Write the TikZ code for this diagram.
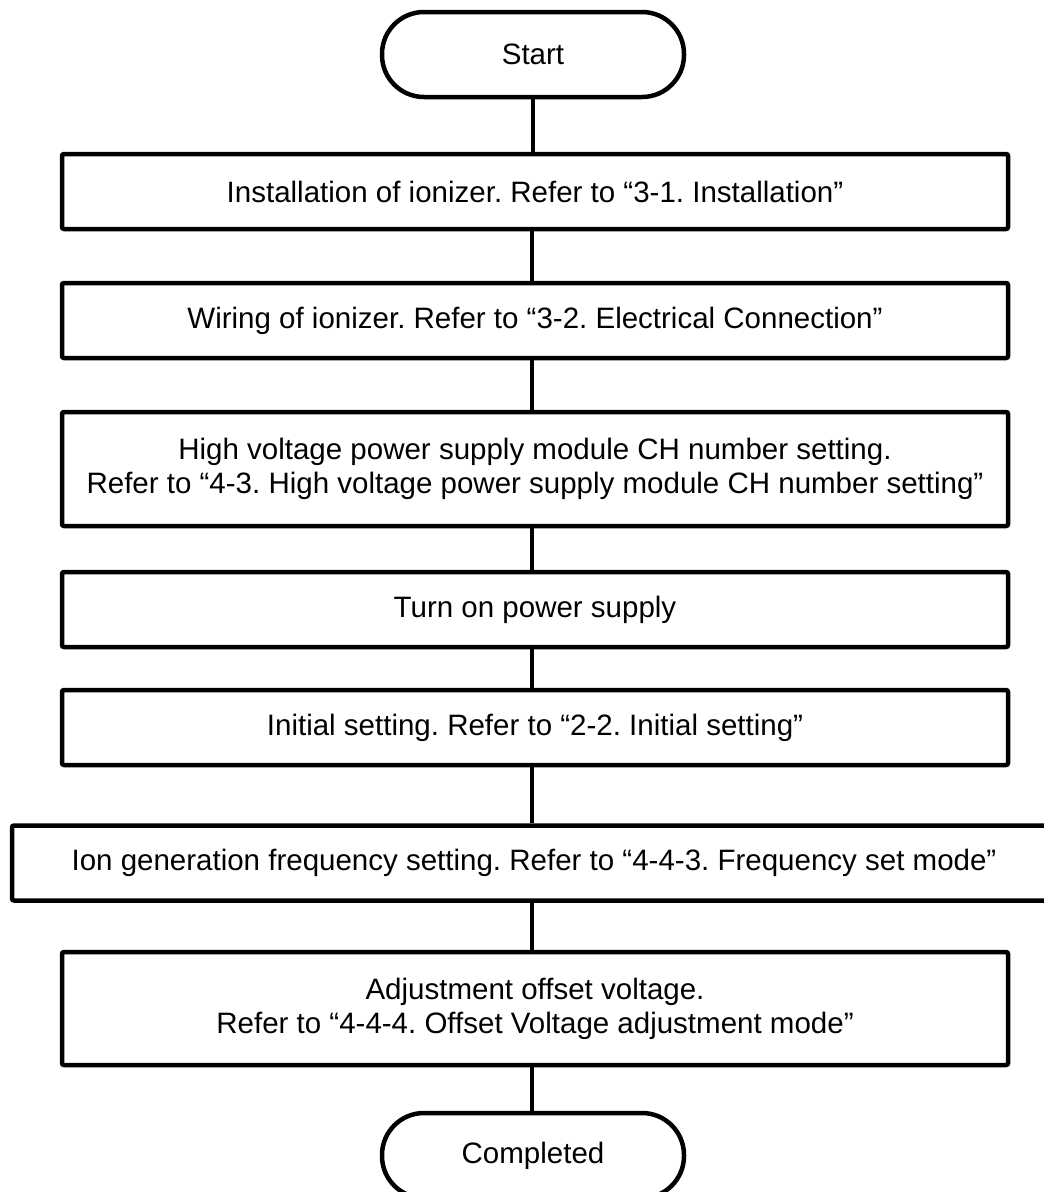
\documentclass[tikz,border=0pt]{standalone}
\usepackage{fontspec}
\setmainfont{Liberation Sans}
\begin{document}
\frenchspacing
\begin{tikzpicture}[x=1pt,y=-1pt,
  every node/.style={font=\fontsize{29.5}{34}\selectfont, align=center, inner sep=0pt},
  stepbox/.style={draw, line width=4.5pt, rounded corners=2pt, minimum width=946pt, minimum height=75pt},
  term/.style={draw, line width=4.5pt, rounded corners=42pt, minimum width=302pt, minimum height=85pt},
  conn/.style={line width=4.5pt}]
\useasboundingbox (0,0) rectangle (1044,1192);
\node[term] (start) at (533,54.5) {Start};
\node[stepbox] (b1) at (535,191.5) {Installation of ionizer. Refer to “3-1. Installation”};
\node[stepbox] (b2) at (535,320.5) {Wiring of ionizer. Refer to “3-2. Electrical Connection”};
\node[stepbox, minimum height=114pt] (b3) at (535,469) {High voltage power supply module CH number setting.\\Refer to “4-3. High voltage power supply module CH number setting”};
\node[stepbox] (b4) at (535,609.5) {Turn on power supply};
\node[stepbox] (b5) at (535,727.5) {Initial setting. Refer to “2-2. Initial setting”};
\node[stepbox, minimum width=1044pt] (b6) at (534,863) {Ion generation frequency setting. Refer to “4-4-3. Frequency set mode”};
\node[stepbox, minimum height=113pt] (b7) at (535,1008.5) {Adjustment offset voltage.\\Refer to “4-4-4. Offset Voltage adjustment mode”};
\node[term] (end) at (533,1155.5) {Completed};
\coordinate (cx) at (532,0);
\draw[conn] (start.south) -- (start.south |- b1.north);
\draw[conn] (cx |- b1.south) -- (cx |- b2.north);
\draw[conn] (cx |- b2.south) -- (cx |- b3.north);
\draw[conn] (cx |- b3.south) -- (cx |- b4.north);
\draw[conn] (cx |- b4.south) -- (cx |- b5.north);
\draw[conn] (cx |- b5.south) -- (cx |- b6.north);
\draw[conn] (cx |- b6.south) -- (cx |- b7.north);
\draw[conn] (cx |- b7.south) -- (cx |- end.north);
\end{tikzpicture}
\end{document}
